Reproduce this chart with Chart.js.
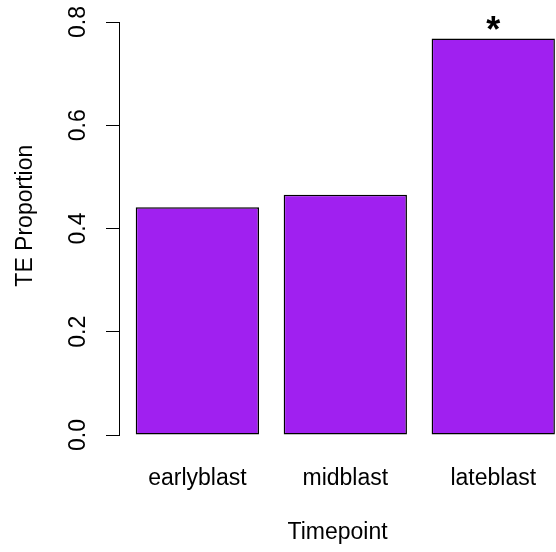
<!DOCTYPE html>
<html>
<head>
<meta charset="utf-8">
<script src="https://cdn.jsdelivr.net/npm/chart.js@4/dist/chart.umd.min.js"></script>
<style>
  html, body { margin: 0; padding: 0; background: #fff; }
  #wrap { width: 556px; height: 552px; }
</style>
</head>
<body>
<div id="wrap"><canvas id="chartTE"></canvas></div>
<script>
// ==================== DỮ LIỆU ====================
const timepoints = ["earlyblast", "midblast", "lateblast"];
const teProportion = [0.441, 0.4655, 0.768];
const significance = ["", "", "*"];
const yTicks = [0, 0.2, 0.4, 0.6, 0.8];

// barplot kiểu R: rộng 1, khoảng cách 0.2
const barWidth = 1, barSpace = 0.2;
const centres = timepoints.map((_, i) => barSpace + barWidth / 2 + i * (barWidth + barSpace));

const FONT = "'Liberation Sans', Arial, Helvetica, sans-serif";

// ==================== DẤU SAO TRÊN CỘT ====================
const saoPlugin = {
    id: "saoPlugin",
    afterDatasetsDraw(chart) {
        const ctx = chart.ctx;
        const bars = chart.getDatasetMeta(0).data;
        ctx.save();
        ctx.font = "bold 36px " + FONT;
        ctx.fillStyle = "#000";
        ctx.textAlign = "center";
        ctx.textBaseline = "alphabetic";
        significance.forEach((s, i) => {
            if (!s) return;
            const m = ctx.measureText(s);
            const cy = bars[i].y - 16;
            const base = cy - (m.actualBoundingBoxDescent - m.actualBoundingBoxAscent) / 2;
            ctx.fillText(s, bars[i].x, base);
        });
        ctx.restore();
    }
};

new Chart(document.getElementById("chartTE"), {
    type: "bar",
    data: {
        datasets: [{
            label: "TE Proportion",
            data: teProportion.map((v, i) => ({ x: centres[i], y: v })),
            backgroundColor: "#A020F0",
            borderColor: "#000",
            borderWidth: 1.5,
            borderSkipped: false,
            categoryPercentage: 1,
            barPercentage: barWidth / (barWidth + barSpace)
        }]
    },
    options: {
        responsive: true,
        maintainAspectRatio: false,
        animation: false,
        layout: { padding: { top: 22, right: 0, left: 0, bottom: 0 } },
        plugins: {
            legend: { display: false },
            tooltip: { enabled: false }
        },
        scales: {
            x: {
                type: "linear",
                offset: false,
                min: 0.0644,
                max: 3.609,
                grid: { display: false, drawTicks: false },
                border: { display: false },
                afterBuildTicks: scale => { scale.ticks = centres.map(v => ({ value: v })); },
                afterFit: scale => {
                    scale.height = 117;
                    scale.paddingLeft = 0;
                    scale.paddingRight = 0;
                },
                ticks: {
                    autoSkip: false,
                    maxRotation: 0,
                    padding: 30,
                    color: "#000",
                    font: { family: FONT, size: 23 },
                    callback: (v, i) => timepoints[i]
                },
                title: {
                    display: true,
                    text: "Timepoint",
                    color: "#000",
                    font: { family: FONT, size: 23 },
                    padding: { top: 0, bottom: 6 }
                }
            },
            y: {
                min: 0,
                max: 0.8,
                afterBuildTicks: scale => { scale.ticks = yTicks.map(v => ({ value: v })); },
                afterFit: scale => {
                    scale.width = 119;
                    scale.paddingTop = 0;
                    scale.paddingBottom = 0;
                },
                grid: {
                    drawOnChartArea: false,
                    drawTicks: true,
                    tickLength: 13,
                    color: "#000",
                    lineWidth: 1
                },
                border: { display: true, color: "#000", width: 1 },
                ticks: {
                    minRotation: 90,
                    maxRotation: 90,
                    crossAlign: "center",
                    padding: 11,
                    color: "#000",
                    font: { family: FONT, size: 23 },
                    callback: v => v.toFixed(1)
                },
                title: {
                    display: true,
                    // khoảng trắng đầu dòng đẩy nhãn lên một chút
                    text: "    TE Proportion",
                    color: "#000",
                    font: { family: FONT, size: 23 },
                    padding: { top: 12, bottom: 0 }
                }
            }
        }
    },
    plugins: [saoPlugin]
});
</script>
</body>
</html>
